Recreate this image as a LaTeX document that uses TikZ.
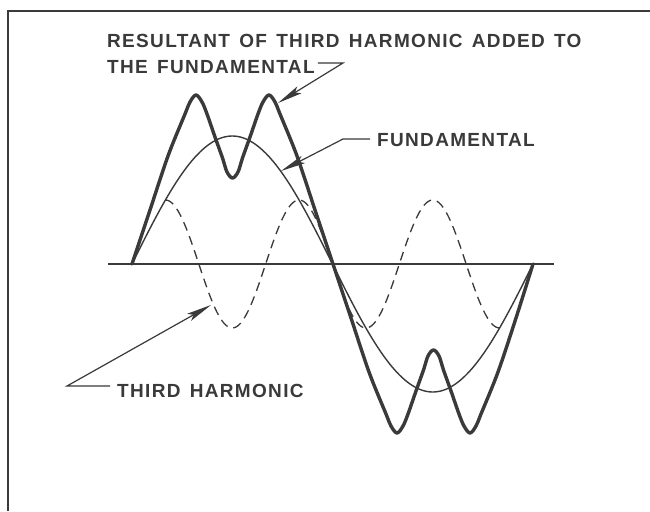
\documentclass[tikz,border=0pt]{standalone}
\usepackage{fontspec}
\setmainfont{Liberation Sans}[LetterSpace=7, WordSpace=1.4]
\usetikzlibrary{arrows.meta}
\definecolor{ink}{RGB}{58,58,58}
\tikzset{
  lbl/.style={font=\fontsize{19}{22}\selectfont\bfseries, text=ink, inner sep=0pt, anchor=base west},
  leader/.style={draw=ink, fill=ink, line width=1.2pt},
  tipped/.style={arrows={-Stealth[length=25pt,width=8pt,inset=5pt,fill=ink]}},
  frameline/.style={draw=ink, line width=1.8pt},
  axisline/.style={draw=ink, line width=1.4pt},
  fund/.style={draw=ink, line width=1.4pt},
  third/.style={draw=ink, line width=1.3pt, dash pattern=on 9pt off 6pt},
  result/.style={draw=ink, line width=3.4pt, line join=round, line cap=round}}
\begin{document}
\begin{tikzpicture}[x=1pt,y=1pt]
\begin{scope}[yscale=-1]
\useasboundingbox (0,0) rectangle (650,511);
\fill[white] (0,0) rectangle (650,511);
% frame
\draw[frameline] (8,511) -- (8,11) -- (650,11);
% axis
\draw[axisline] (108,264) -- (554,264);
% curves
\begin{scope}[shift={(132,264)}, yscale=-1]
  \draw[fund] plot[domain=0:401, samples=160] (\x, {128*sin(\x*0.897756)});
  \draw[third] plot[domain=33.4:367.6, samples=200] (\x, {64*sin(\x*2.693267)});
  \draw[result] plot[smooth, tension=0.55] coordinates {
    (0,0) (18,54) (36,108) (53,150) (58,162) (64,169) (70,162) (75,150)
    (83,127) (90.5,106) (95,92) (100.5,86) (106,92) (110.5,106) (118,127)
    (126,150) (131,162) (137,169) (143,162) (148,150) (165,108) (183,54)
    (201,0)
    (219,-54) (237,-108) (254,-150) (259,-162) (265,-169) (271,-162) (276,-150)
    (284,-127) (291.5,-106) (296,-92) (301.5,-86) (307,-92) (311.5,-106) (319,-127)
    (327,-150) (332,-162) (338,-169) (344,-162) (349,-150) (366,-108) (384,-54)
    (401,0)};
\end{scope}
% labels
\node[lbl] (res1) at (107,48) {RESULTANT OF THIRD HARMONIC ADDED TO};
\node[lbl] (res2) at (107,74) {THE FUNDAMENTAL};
\node[lbl] (fundl) at (377,146) {FUNDAMENTAL};
\node[lbl] (thirdl) at (117,397) {THIRD HARMONIC};
% leader points
\coordinate (resv) at (343,63);
\coordinate (restip) at (278,103);
\coordinate (fundv) at (343,139);
\coordinate (fundtip) at (281,171);
\coordinate (thirdv) at (67,386);
\coordinate (thirdtip) at (211,305);
\end{scope}
% leaders
\draw[leader, fill=none, tipped] ([xshift=3pt]res2.east |- resv) -- (resv) -- (restip);
\draw[leader, fill=none, tipped] ([xshift=-7pt]fundl.west |- fundv) -- (fundv) -- (fundtip);
\draw[leader, fill=none, tipped] ([xshift=-7pt]thirdl.west |- thirdv) -- (thirdv) -- (thirdtip);
\end{tikzpicture}
\end{document}
